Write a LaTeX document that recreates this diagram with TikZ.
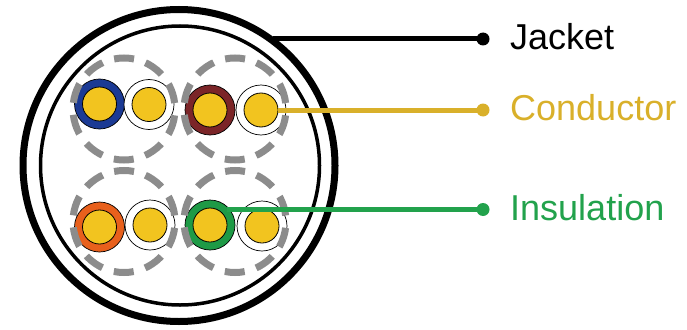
\documentclass[tikz,border=0pt]{standalone}
\usepackage{fontspec}
\setmainfont{Liberation Sans}
\definecolor{wireblue}{HTML}{1B3A94}
\definecolor{wiremaroon}{HTML}{7B2528}
\definecolor{wireorange}{HTML}{E8601C}
\definecolor{wiregreen}{HTML}{1E9A46}
\definecolor{coreyellow}{HTML}{F2C41F}
\definecolor{condline}{HTML}{D9B02A}
\definecolor{insline}{HTML}{22A24C}
\definecolor{twistgray}{HTML}{8C8C8C}
\tikzset{
	wire/.style={circle, draw=black, line width=0.7pt, fill=#1, minimum size=50pt, inner sep=0pt, outer sep=0pt},
	core/.style={circle, draw=black, line width=0.8pt, fill=coreyellow, minimum size=34pt, inner sep=0pt, outer sep=0pt},
	twist/.style={circle, draw=twistgray, line width=7pt, dash pattern=on 20pt off 12pt, dash phase=26pt, minimum size=102pt, inner sep=0pt, outer sep=0pt},
	sheath/.style={circle, draw=black, inner sep=0pt, outer sep=0pt},
	dot/.style={circle, fill=#1, minimum size=13pt, inner sep=0pt, outer sep=0pt},
	lead/.style={anchor=west, inner sep=0pt, font=\fontsize{36}{40}\selectfont}
}

\begin{document}
\begin{tikzpicture}[x=1pt, y=-1pt]
	\useasboundingbox (0,0) rectangle (687,329);
	% cable sheath
	\node[sheath, line width=7pt, minimum size=312pt] (jacket) at (179,165.5) {};
	\node[sheath, line width=3.5pt, minimum size=279pt] (shield) at (180,165.5) {};
	% wire pairs
	\foreach \name/\col/\x/\y in {blue/wireblue/99.5/104, maroon/wiremaroon/210/110, orange/wireorange/99.5/227, green/wiregreen/210/225}
		\node[wire=\col] (\name) at (\x,\y) {};
	\foreach \name/\x/\y in {whiteA/149/104.5, whiteB/261/110, whiteC/150/225, whiteD/262/226}
		\node[wire=white] (\name) at (\x,\y) {};
	\foreach \name/\x/\y in {blue/99.5/104, maroon/210/110, orange/99.5/227, green/210/225, whiteA/149/104.5, whiteB/261/110, whiteC/150/225, whiteD/262/226}
		\node[core] (core\name) at (\x,\y) {};
	% twist outlines
	\foreach \name/\x/\y in {twistA/124/109, twistB/235/109, twistC/124/221.5, twistD/235/221.5}
		\node[twist] (\name) at (\x,\y) {};
	% leaders
	\node[dot=black] (jacketdot) at (483,39) {};
	\node[dot=condline] (conddot) at (483,110) {};
	\node[dot=insline] (insdot) at (483,209.5) {};
	\coordinate (jacketstart) at (273,39);
	\coordinate (insstart) at (227,209.5);
	\draw[line width=5pt, black] (jacketstart) -- (jacketdot);
	\draw[line width=5pt, condline] (corewhiteB.east) -- (conddot);
	\draw[line width=5pt, insline] (insstart) -- (insdot);
	\node[lead, text=black] (jacketlabel) at (510,37) {Jacket};
	\node[lead, text=condline] (condlabel) at (510,108) {Conductor};
	\node[lead, text=insline] (inslabel) at (510,208) {Insulation};
\end{tikzpicture}
\end{document}
